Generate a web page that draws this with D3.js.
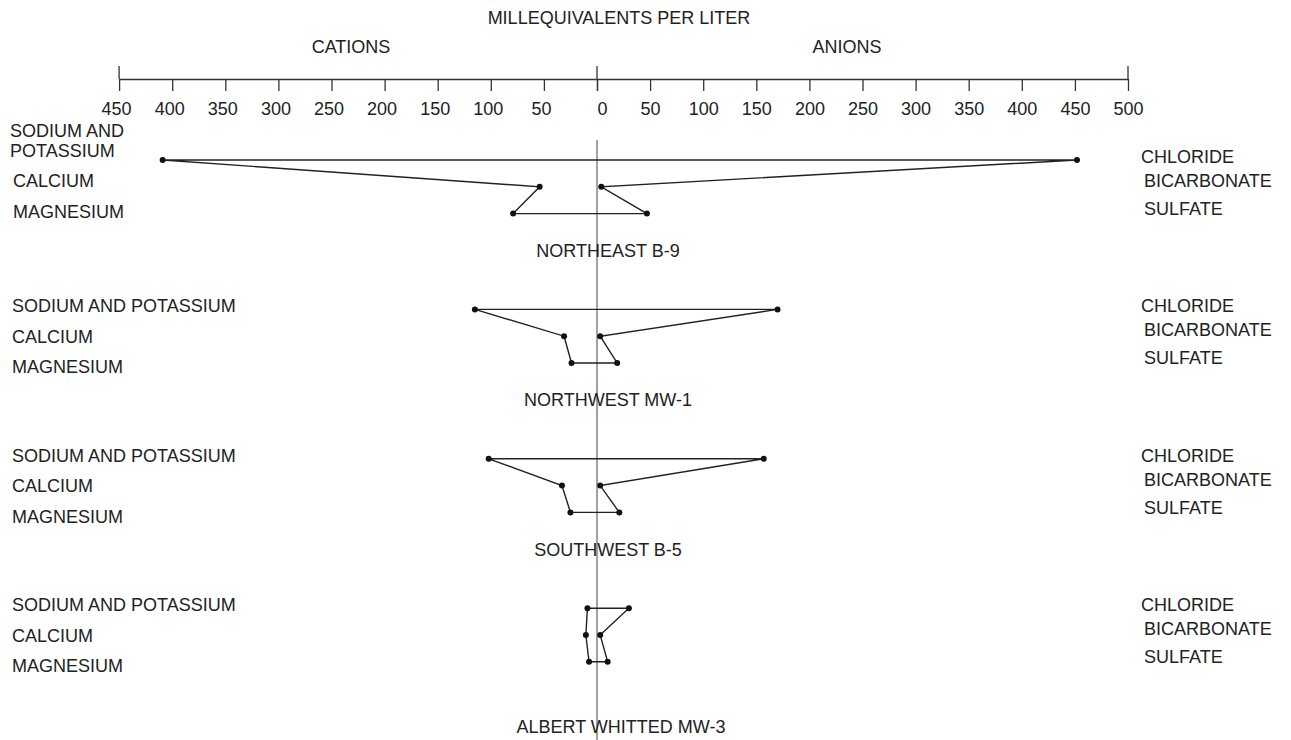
<!DOCTYPE html>
<meta charset="utf-8" />
<script src="https://d3js.org/d3.v7.min.js"></script>
<style>
  body { margin: 0; background: #fff; }
  text { font-family: "Liberation Sans", Arial, sans-serif; fill: #222; }
</style>
<body>
  <div id="chart"></div>
  <script>
    // milliequivalents per liter
    const samples = ["NORTHEAST B-9", "NORTHWEST MW-1", "SOUTHWEST B-5", "ALBERT WHITTED MW-3"];
    const sodiumPotassium = [409, 115, 102, 9];
    const calcium = [54, 31, 33, 10.5];
    const magnesium = [79, 24, 25, 7.5];
    const chloride = [452, 170, 157, 30];
    const bicarbonate = [4, 3, 3, 3];
    const sulfate = [47, 19, 21, 10];

    const cationNames = ["SODIUM AND POTASSIUM", "CALCIUM", "MAGNESIUM"];
    const anionNames = ["CHLORIDE", "BICARBONATE", "SULFATE"];
    const cationTicks = [450, 400, 350, 300, 250, 200, 150, 100, 50, 0];
    const anionTicks = [0, 50, 100, 150, 200, 250, 300, 350, 400, 450, 500];

    var width = 1291, height = 740;
    var center = 597, axisY = 79;

    var svg = d3.select("#chart").append("svg")
      .attr("width", width)
      .attr("height", height);

    // both halves share the same px per meq/L
    var xCat = d3.scaleLinear().domain([0, 450]).range([center, center - 450 * 1.062]);
    var xAn = d3.scaleLinear().domain([0, 500]).range([center, center + 500 * 1.062]);

    // block / row vertical layout
    var blockY = d3.scaleLinear().domain([0, 3]).range([160, 160 + 3 * 149.4]);
    var rowStep = 26.8;

    // titles
    svg.append("text").attr("x", 619).attr("y", 24).attr("text-anchor", "middle")
      .style("font-size", "18px").text("MILLEQUIVALENTS PER LITER");
    svg.append("text").attr("x", 351).attr("y", 53).attr("text-anchor", "middle")
      .style("font-size", "18px").text("CATIONS");
    svg.append("text").attr("x", 847).attr("y", 53).attr("text-anchor", "middle")
      .style("font-size", "18px").text("ANIONS");

    // axes
    var axL = svg.append("g").attr("transform", "translate(0," + axisY + ")")
      .call(d3.axisBottom(xCat).tickValues(cationTicks).tickSize(12).tickSizeOuter(0).tickPadding(11)
        .tickFormat(function (d) { return d === 0 ? "" : d; }));
    axL.selectAll("text").attr("dx", "-3");
    var axR = svg.append("g").attr("transform", "translate(0," + axisY + ")")
      .call(d3.axisBottom(xAn).tickValues(anionTicks).tickSize(12).tickSizeOuter(0).tickPadding(11));
    axR.selectAll("text").attr("dx", function (d) { return d === 0 ? "5" : "0"; });
    svg.selectAll(".domain, .tick line").attr("stroke", "#333").attr("stroke-width", 1.3);
    svg.selectAll(".tick text").style("font-size", "18px").attr("fill", "#222")
      .style("font-family", '"Liberation Sans", Arial, sans-serif');

    // end ticks run above the line too
    [xCat(450), center, xAn(500)].forEach(function (x) {
      svg.append("line").attr("x1", x).attr("x2", x)
        .attr("y1", axisY - 13).attr("y2", axisY)
        .attr("stroke", "#333").attr("stroke-width", 1.3);
    });

    // zero line
    svg.append("line").attr("x1", center).attr("x2", center)
      .attr("y1", 140).attr("y2", height)
      .attr("stroke", "#444").attr("stroke-width", 1);

    samples.forEach(function (name, i) {
      var y0 = blockY(i);
      var pts = [
        [xCat(sodiumPotassium[i]), y0],
        [xAn(chloride[i]), y0],
        [xAn(bicarbonate[i]), y0 + rowStep],
        [xAn(sulfate[i]), y0 + 2 * rowStep],
        [xCat(magnesium[i]), y0 + 2 * rowStep],
        [xCat(calcium[i]), y0 + rowStep]
      ];

      svg.append("path")
        .attr("d", d3.line()(pts) + "Z")
        .attr("fill", "none")
        .attr("stroke", "#222")
        .attr("stroke-width", 1.4);

      svg.selectAll(null).data(pts).enter().append("circle")
        .attr("cx", function (d) { return d[0]; })
        .attr("cy", function (d) { return d[1]; })
        .attr("r", 3)
        .attr("fill", "#111");

      // cation names on the left
      if (i === 0) {
        var t = svg.append("text").attr("x", 10).attr("y", y0 - 23).style("font-size", "18px");
        t.append("tspan").attr("x", 10).text("SODIUM AND");
        t.append("tspan").attr("x", 10).attr("dy", 20).text("POTASSIUM");
        svg.append("text").attr("x", 13).attr("y", y0 + 27).style("font-size", "18px").text(cationNames[1]);
        svg.append("text").attr("x", 13).attr("y", y0 + 58).style("font-size", "18px").text(cationNames[2]);
      } else {
        cationNames.forEach(function (c, j) {
          svg.append("text").attr("x", 12).attr("y", y0 + 3 + j * 30.5)
            .style("font-size", "18px").text(c);
        });
      }

      // anion names on the right
      anionNames.forEach(function (a, j) {
        svg.append("text").attr("x", j === 0 ? 1141 : 1144).attr("y", y0 + [3, 27, 55][j])
          .style("font-size", "18px").text(a);
      });

      // sample name under the diagram
      var last = i === samples.length - 1;
      svg.append("text")
        .attr("x", last ? center + 24 : center + 11)
        .attr("y", y0 + (last ? 125 : 97))
        .attr("text-anchor", "middle")
        .style("font-size", "18px")
        .text(name);
    });
  </script>
</body>
